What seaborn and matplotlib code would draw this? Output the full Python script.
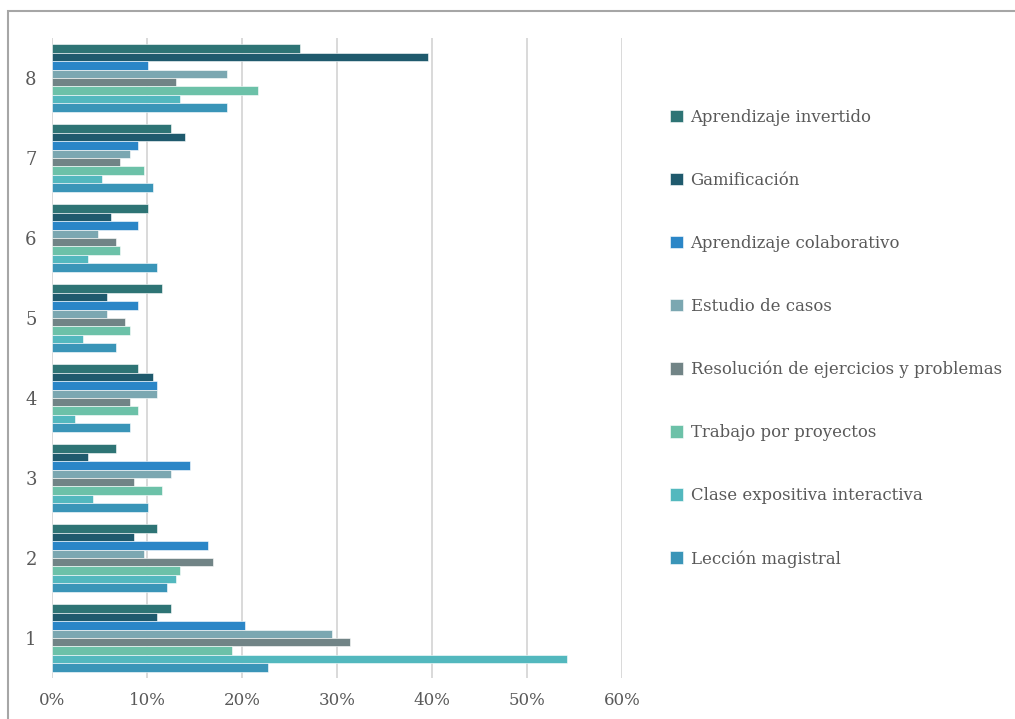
import matplotlib
matplotlib.use("Agg")
import matplotlib.pyplot as plt
from matplotlib.patches import Rectangle
from matplotlib.ticker import FuncFormatter
import numpy as np
import pandas as pd
import seaborn as sns

# Categories (rating 1-8) shown top to bottom
categories = ["8", "7", "6", "5", "4", "3", "2", "1"]

methods = [
    "Aprendizaje invertido",
    "Gamificación",
    "Aprendizaje colaborativo",
    "Estudio de casos",
    "Resolución de ejercicios y problemas",
    "Trabajo por proyectos",
    "Clase expositiva interactiva",
    "Lección magistral",
]

# Share of responses per rating, listed for ratings 8 -> 1
aprendizaje_invertido = [26.1, 12.5, 10.1, 11.6, 9.1, 6.7, 11.1, 12.5]
gamificacion = [39.6, 14.0, 6.2, 5.8, 10.6, 3.8, 8.6, 11.1]
aprendizaje_colaborativo = [10.1, 9.1, 9.1, 9.1, 11.1, 14.5, 16.4, 20.3]
estudio_casos = [18.4, 8.2, 4.8, 5.8, 11.1, 12.5, 9.7, 29.5]
resolucion_ejercicios = [13.1, 7.2, 6.7, 7.7, 8.2, 8.6, 16.9, 31.4]
trabajo_proyectos = [21.7, 9.7, 7.2, 8.2, 9.1, 11.6, 13.5, 18.9]
clase_expositiva = [13.5, 5.3, 3.8, 3.3, 2.4, 4.3, 13.1, 54.2]
leccion_magistral = [18.4, 10.6, 11.1, 6.7, 8.2, 10.1, 12.1, 22.7]

series = [
    aprendizaje_invertido,
    gamificacion,
    aprendizaje_colaborativo,
    estudio_casos,
    resolucion_ejercicios,
    trabajo_proyectos,
    clase_expositiva,
    leccion_magistral,
]

colors = [
    "#2E7475",
    "#1F5A6D",
    "#2B86C7",
    "#7BA7B1",
    "#718486",
    "#6CC1A8",
    "#53B8BE",
    "#3A95B8",
]

xticks = [0, 0.1, 0.2, 0.3, 0.4, 0.5, 0.6]

rows = []
for method, vals in zip(methods, series):
    for cat, v in zip(categories, vals):
        rows.append({"categoria": cat, "metodo": method, "valor": v / 100.0})
df = pd.DataFrame(rows)

sns.set_theme(style="white")
plt.rcParams["font.family"] = ["DejaVu Serif"]
text_color = "#595959"

fig = plt.figure(figsize=(10.15, 7.19), dpi=100)
ax = fig.add_axes([52 / 1015, 1 - 678 / 719, 570 / 1015, 640 / 719])

sns.barplot(
    data=df, x="valor", y="categoria", hue="metodo",
    order=categories, hue_order=methods,
    palette=dict(zip(methods, colors)), saturation=1,
    width=0.84, orient="h", ax=ax,
    edgecolor="white", linewidth=0.4,
)

ax.set_xlim(0, 0.6)
ax.set_xticks(xticks)
ax.xaxis.set_major_formatter(FuncFormatter(lambda v, p: f"{v * 100:.0f}%"))
ax.set_xlabel("")
ax.set_ylabel("")
ax.grid(axis="x", color="#D9D9D9", linewidth=1.4)
ax.grid(axis="y", visible=False)
ax.set_axisbelow(True)
for s in ax.spines.values():
    s.set_visible(False)
ax.tick_params(axis="both", length=0, colors=text_color, labelsize=12)
ax.tick_params(axis="y", labelsize=13)
ax.tick_params(axis="x", pad=10)
ax.tick_params(axis="y", pad=11)

handles, labels = ax.get_legend_handles_labels()
ax.get_legend().remove()
leg = fig.legend(
    handles, labels, loc="upper left",
    bbox_to_anchor=(655 / 1015, 1 - 94 / 719),
    frameon=False, fontsize=11.9, labelcolor=text_color,
    handlelength=0.8, handleheight=0.8, handletextpad=0.45,
    labelspacing=2.78,
)

# outer chart frame
fig.patches.append(Rectangle(
    (8 / 1015, -0.1), 1.2, 1 - 11 / 719 + 0.1,
    transform=fig.transFigure, fill=False,
    edgecolor="#A6A6A6", linewidth=1.5, zorder=0,
))

fig.savefig("out.png", dpi=100)
